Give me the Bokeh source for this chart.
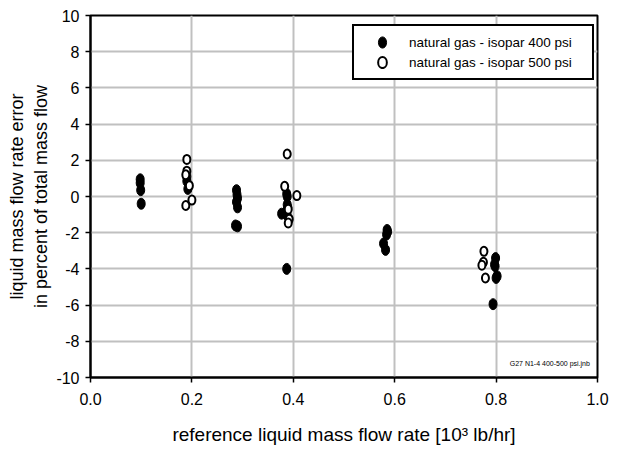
from bokeh.plotting import figure
from bokeh.models import Range1d, FixedTicker, Legend, LegendItem, Label
from bokeh.embed import file_html
from bokeh.resources import INLINE

# natural gas - isopar 400 psi (filled)
x400 = [0.098, 0.098, 0.099, 0.100,
        0.190, 0.190, 0.192,
        0.288, 0.289, 0.290, 0.288, 0.290, 0.286, 0.290,
        0.387, 0.388, 0.388, 0.389, 0.387, 0.377, 0.388, 0.387,
        0.585, 0.586, 0.584, 0.578, 0.582,
        0.799, 0.797, 0.798, 0.802, 0.800, 0.794]
y400 = [0.95, 0.75, 0.35, -0.40,
        1.10, 0.85, 0.42,
        0.35, 0.10, -0.10, -0.30, -0.60, -1.60, -1.65,
        0.15, 0.00, -0.45, -0.60, -0.80, -0.95, -1.05, -4.00,
        -1.85, -1.95, -2.10, -2.60, -2.95,
        -3.40, -3.75, -3.85, -4.40, -4.50, -5.95]

# natural gas - isopar 500 psi (open)
x500 = [0.190, 0.190, 0.188, 0.195, 0.200, 0.188,
        0.388, 0.383, 0.407, 0.390, 0.392, 0.390,
        0.776, 0.775, 0.772, 0.779]
y500 = [2.05, 1.40, 1.20, 0.60, -0.20, -0.50,
        2.35, 0.56, 0.05, -0.70, -1.25, -1.46,
        -3.03, -3.63, -3.80, -4.50]

x_ticks = [0.0, 0.2, 0.4, 0.6, 0.8, 1.0]
y_ticks = [-10, -8, -6, -4, -2, 0, 2, 4, 6, 8, 10]

FONT = "Liberation Sans"

p = figure(width=628, height=453, output_backend="svg", toolbar_location=None,
           x_range=Range1d(0, 1.0), y_range=Range1d(-10, 10),
           min_border_left=90, min_border_right=31, min_border_top=15, min_border_bottom=76)

p.outline_line_color = "black"
p.outline_line_width = 2
p.outline_line_alpha = 1.0
p.background_fill_color = "white"
p.border_fill_color = "white"

for ax in (p.xaxis[0], p.yaxis[0]):
    ax.axis_line_color = "black"
    ax.axis_line_width = 2
    ax.major_tick_line_color = "black"
    ax.major_tick_line_width = 1.5
    ax.major_tick_out = 5
    ax.major_tick_in = 0
    ax.minor_tick_line_color = None
    ax.major_label_text_font = FONT
    ax.major_label_text_font_size = "16px"
    ax.major_label_text_color = "black"
    ax.axis_label_text_font = FONT
    ax.axis_label_text_font_style = "normal"
    ax.axis_label_text_color = "black"

p.xaxis[0].axis_label_text_font_size = "19px"
p.yaxis[0].axis_label_text_font_size = "18px"
p.xaxis[0].ticker = FixedTicker(ticks=x_ticks)
p.yaxis[0].ticker = FixedTicker(ticks=y_ticks)
p.xaxis[0].major_label_overrides = {t: f"{t:.1f}" for t in x_ticks}
p.yaxis[0].major_label_overrides = {t: str(t) for t in y_ticks}
p.xaxis[0].major_label_standoff = 10
p.yaxis[0].major_label_standoff = 6
p.xaxis[0].axis_label = "reference liquid mass flow rate [10³ lb/hr]"
p.xaxis[0].axis_label_standoff = 16
p.yaxis[0].axis_label = "liquid mass flow rate error\nin percent of total mass flow"
p.yaxis[0].axis_label_standoff = 2

p.xgrid.ticker = FixedTicker(ticks=x_ticks)
p.ygrid.ticker = FixedTicker(ticks=y_ticks)
p.grid.grid_line_color = "#c0c0c0"
p.grid.grid_line_width = 2
p.grid.grid_line_alpha = 1.0

r400 = p.ellipse(x400, y400, width=8, height=11, width_units="screen", height_units="screen",
                 fill_color="black", line_color="black", line_width=1)
r500 = p.ellipse(x500, y500, width=7, height=9, width_units="screen", height_units="screen",
                 fill_color="white", line_color="black", line_width=2)

legend = Legend(items=[LegendItem(label="natural gas - isopar 400 psi", renderers=[r400]),
                       LegendItem(label="natural gas - isopar 500 psi", renderers=[r500])],
                location=(262, 297))
legend.border_line_color = "black"
legend.border_line_width = 2
legend.border_line_alpha = 1.0
legend.label_text_font = FONT
legend.label_text_font_size = "13.5px"
legend.label_text_color = "black"
legend.glyph_width = 44
legend.glyph_height = 14
legend.label_height = 20
legend.label_width = 177
legend.label_standoff = 5
legend.spacing = 0
legend.padding = 6
legend.margin = 0
legend.background_fill_alpha = 1.0
p.add_layout(legend, "center")

p.add_layout(Label(x=0.985, y=-9.4, text="G27 N1-4 400-500 psi.jnb", text_align="right",
                   text_font=FONT, text_font_size="7px", text_color="black"))

open("out.html", "w").write(file_html(p, INLINE))
